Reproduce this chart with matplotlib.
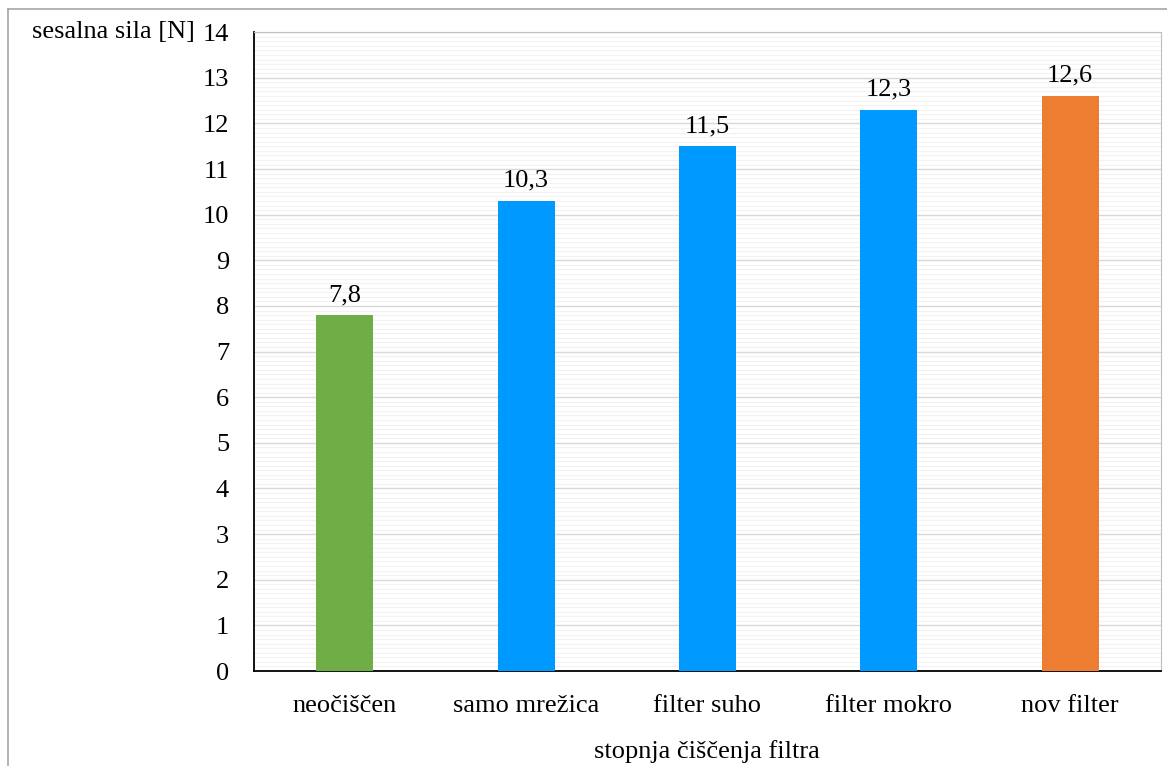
import matplotlib.pyplot as plt
from matplotlib.ticker import MultipleLocator
from matplotlib.lines import Line2D

categories = ['neočiščen', 'samo mrežica', 'filter suho', 'filter mokro', 'nov filter']
values = [7.8, 10.3, 11.5, 12.3, 12.6]
colors = ['#70AD47', '#0099FF', '#0099FF', '#0099FF', '#ED7D31']

plt.rcParams['font.family'] = ['Liberation Serif', 'DejaVu Serif']
plt.rcParams['font.size'] = 19

fig = plt.figure(figsize=(11.67, 7.66), dpi=100)
ax = fig.add_axes([0.2177, 0.124, 0.777, 0.834])

x = list(range(len(categories)))
bars = ax.bar(x, values, width=0.314, color=colors, zorder=3)
for rect, v in zip(bars, values):
    ax.text(rect.get_x() + rect.get_width() / 2, v + 0.2, f'{v:.1f}'.replace('.', ','),
            ha='center', va='bottom', zorder=4)

ax.set_xlim(-0.5, len(categories) - 0.5)
ax.set_ylim(0, 14)
ax.yaxis.set_major_locator(MultipleLocator(1))
ax.yaxis.set_minor_locator(MultipleLocator(0.1))
ax.set_xticks(x)
ax.set_xticklabels(categories)

# mreža: glavne in pomožne črte
ax.grid(axis='y', which='major', color='#D9D9D9', linewidth=1.0, zorder=0)
ax.grid(axis='y', which='minor', color='#F2F2F2', linewidth=0.8, zorder=0)
ax.set_axisbelow(True)

ax.tick_params(axis='both', which='both', length=0)
ax.tick_params(axis='y', pad=18)
ax.tick_params(axis='x', pad=17)

ax.spines['left'].set_color('black')
ax.spines['bottom'].set_color('black')
ax.spines['left'].set_linewidth(1.3)
ax.spines['bottom'].set_linewidth(1.3)
ax.spines['top'].set_color('#BFBFBF')
ax.spines['right'].set_color('#BFBFBF')

fig.text(195 / 1167, 1 - 32 / 766, 'sesalna sila [N]', ha='right', va='center')
fig.text(707 / 1167, 1 - 752 / 766, 'stopnja čiščenja filtra', ha='center', va='center')

# okvir okrog grafa
fig.add_artist(Line2D([8 / 1167, 8 / 1167], [0, 1 - 9 / 766], color='#A6A6A6', linewidth=1.2,
                      transform=fig.transFigure))
fig.add_artist(Line2D([8 / 1167, 1], [1 - 9 / 766, 1 - 9 / 766], color='#A6A6A6', linewidth=1.2,
                      transform=fig.transFigure))

fig.savefig('out.png', dpi=100)
